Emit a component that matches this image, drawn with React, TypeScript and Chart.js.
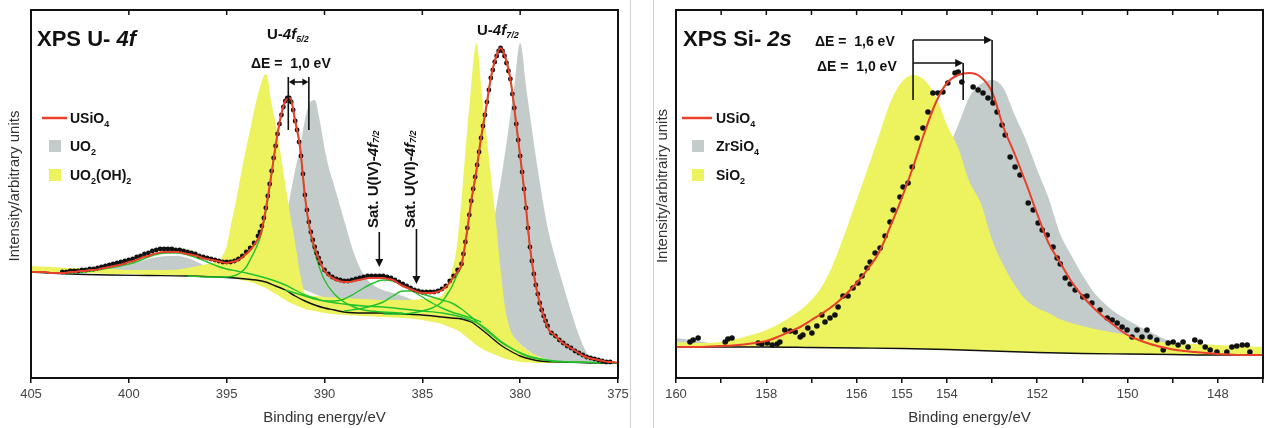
import React, { useEffect, useRef } from "react";
import { Chart, registerables } from "chart.js";

Chart.register(...registerables);
const FONT = "'Liberation Sans', Arial, Helvetica, sans-serif";
Chart.defaults.font.family = FONT;

const INK = "#111111";
const RED = "#e8402a";
const GREEN = "#22c22c";
const GREY_FILL = "#c3cbcb";
const YELLOW_FILL = "#ecf35e";
const CLEAR = "rgba(0,0,0,0)";

type P = [number, number];
type Band = [number, number, number];

// ======================= LEFT PANEL : XPS U-4f =======================
const uLabeledTicks = [405, 400, 395, 390, 385, 380, 375];

// measured points (binding energy eV, intensity a.u.)
const uMeasured: P[] = [
  [403.4,106],[403.2,106],[403,107],[402.8,107],[402.6,107],[402.4,108],[402.2,108],[402,109],[401.8,109],[401.6,110],
  [401.4,111],[401.2,112],[401,113],[400.8,114],[400.6,115],[400.4,116],[400.2,117],[400,118],[399.8,119],[399.6,121],
  [399.4,122],[399.2,124],[399,125],[398.8,127],[398.6,128],[398.4,129],[398.2,129],[398,129],[397.8,129],[397.6,128],
  [397.4,128],[397.2,127],[397,126],[396.8,125],[396.6,124],[396.4,122],[396.2,121],[396,120],[395.8,119],[395.6,118],
  [395.4,117],[395.2,116],[395,116],[394.8,116],[394.6,117],[394.4,119],[394.2,122],[394,126],[393.8,130],[393.6,135],
  [393.4,142],[393.3,146],[393.2,152],[393.1,160],[393,170],[392.9,182],[392.8,194],[392.7,207],[392.6,220],[392.5,232],
  [392.4,244],[392.3,254],[392.2,263],[392.1,271],[392,277],[391.9,280],[391.8,280],[391.7,276],[391.6,268],[391.5,257],
  [391.4,248],[391.3,236],[391.2,222],[391.1,204],[391,183],[390.9,168],[390.8,156],[390.7,146],[390.6,138],[390.5,131],
  [390.4,125],[390.3,120],[390.2,115],[390,108],[389.8,104],[389.6,101],
  [389.4,99],[389.2,98],[389,97],[388.8,97],[388.6,98],[388.4,99],[388.2,100],[388,101],[387.8,102],[387.6,102],
  [387.4,102],[387.2,102],[387,102],[386.8,101],[386.6,100],[386.4,98],[386.2,96],[386,94],[385.8,92],[385.6,90],
  [385.4,88],[385.2,87],[385,86],[384.8,86],[384.6,86],[384.4,86],[384.2,87],[384,89],[383.8,92],[383.6,97],
  [383.4,102],[383.2,108],[383,114],[382.9,124],[382.8,136],[382.7,150],[382.6,163],[382.5,177],[382.4,189],[382.3,201],
  [382.2,213],[382.1,226],[382,240],[381.9,252],[381.8,263],[381.7,276],[381.6,288],[381.5,300],[381.4,308],[381.3,316],
  [381.2,322],[381.1,327],[381,330],[380.9,327],[380.8,322],[380.7,315],[380.6,307],[380.5,299],[380.4,284],[380.3,270],
  [380.2,254],[380.1,238],[380,222],[379.9,206],[379.8,189],[379.7,170],[379.6,150],[379.5,131],[379.4,117],[379.3,104],
  [379.2,93],[379.1,84],[379,75],[378.9,68],[378.8,62],[378.7,57],[378.6,52],[378.4,45],[378.2,42],[378,38],[377.8,35],[377.6,32],
  [377.4,30],[377.2,27],[377,25],[376.8,23],[376.6,21],[376.4,20],[376.2,19],[376,18],[375.8,17],[375.6,16],[375.4,16],
];

// USiO4 envelope fit
const uFit: P[] = [
  [405,106],[404.75,106],[404.5,106],[404.25,106],[404,105],[403.75,105],[403.5,105],[403.25,105],[403,106],[402.75,106],
  [402.5,107],[402.25,107],[402,108],[401.75,108],[401.5,109],[401.25,110],[401,111],[400.75,112],[400.5,113],[400.25,114],
  [400,116],[399.75,117],[399.5,119],[399.25,121],[399,122],[398.75,124],[398.5,125],[398.25,126],[398,126],[397.75,126],
  [397.5,126],[397.25,125],[397,124],[396.75,123],[396.5,122],[396.25,120],[396,119],[395.75,118],[395.5,117],[395.25,116],
  [395,115],[394.75,116],[394.5,117],[394.25,120],[394,124],[393.75,129],[393.5,136],[393.25,145],[393,169],[392.75,199],
  [392.5,232],[392.25,260],[392,277],[391.75,280],[391.5,257],[391.25,231],[391,182],[390.75,149],[390.5,130],[390.25,117],
  [390,107],[389.75,102],[389.5,99],[389.25,97],[389,96],[388.75,96],[388.5,97],[388.25,98],[388,99],[387.75,100],
  [387.5,100],[387.25,100],[387,100],[386.75,99],[386.5,98],[386.25,95],[386,92],[385.75,90],[385.5,88],[385.25,86],
  [385,85],[384.75,85],[384.5,85],[384.25,86],[384,88],[383.75,92],[383.5,98],[383.25,105],[383,113],[382.75,142],
  [382.5,177],[382.25,206],[382,240],[381.75,269],[381.5,300],[381.25,320],[381,330],[380.75,320],[380.5,299],[380.25,262],
  [380,222],[379.75,180],[379.5,131],[379.25,98],[379,75],[378.75,59],[378.5,47],[378.25,43],[378,38],[377.75,34],
  [377.5,31],[377.25,28],[377,25],[376.75,22],[376.5,20],[376.25,19],[376,18],[375.75,17],[375.5,16],[375.25,16],[375,15],
];

// Shirley-type background
const uBackground: P[] = [
  [405,106],[403,104],[401,103],[399,102.5],[397,102],[395,100.5],[394,99],[393.5,98],[393,96],[392.5,92],[392,88],
  [391.5,82],[391,77],[390.5,73],[390,70],[389.5,68],[389,66],[388,65],[387,65],[386,64],[385,63],[384,61],[383.5,60],
  [383,59],[382.5,56],[382,49],[381.5,41],[381,33],[380.5,27],[380,22],[379.5,19],[379,17],[378,16],[377,15.5],[376,15],[375,15],
];

// fitted components (on background)
const uCompSat52: P[] = [
  [405,106],[403,105],[401,110],[400,114],[399.5,117],[399,121],[398.5,124],[398,125],[397.5,125],[397,123],[396.5,120],
  [396,116],[395.5,112],[395,109],[394.5,107],[394,105],[393,100],[392,93],[391.5,88],[391,83],[390.5,80],[390,77],
  [389,74],[388,72],[387,71],[386,69],[385,67],[384,65],[383,61],[382,53],[381,37],[380,25],[379,19],[378,16.5],[376,15.5],[375,15],
];
const uComp52: P[] = [
  [397,102],[396,101],[395,101],[394.5,103],[394.25,106],[394,111],[393.75,120],[393.5,130],[393.25,143],[393,166],
  [392.75,198],[392.5,232],[392.25,260],[392,276],[391.75,279],[391.5,257],[391.25,231],[391,182],[390.75,147],[390.5,126],
  [390.25,110],[390,98],[389.5,84],[389,76],[388.5,71],[388,68],[387,66],[386,65],
];
const uCompSatIV: P[] = [
  [392,88],[391,82],[390.5,79],[390,77],[389.5,77],[389,79],[388.5,84],[388,90],[387.5,95],[387,98],[386.5,97],[386,93],
  [385.5,87],[385,81],[384.5,75],[384,70],[383.5,66],[383,63],[382.5,60],[382,56],
];
const uCompSatVI: P[] = [
  [389,67],[388,70],[387,76],[386.5,82],[386,87],[385.5,87],[385,84],[384.5,81],[384,78],[383.5,75],[383,69],[382.5,61],
  [382,52],[381.5,44],[381,36],[380.5,30],[380,25],[379.5,21],[379,19],[378,16.5],[377,16],[376,15],
];
const uComp72: P[] = [
  [387,64],[386,64],[385,67],[384.5,70],[384,76],[383.75,83],[383.5,91],[383.25,102],[383,113],[382.75,141],[382.5,176],
  [382.25,204],[382,239],[381.75,268],[381.5,299],[381.25,320],[381,330],[380.75,320],[380.5,299],[380.25,262],[380,222],
  [379.75,180],[379.5,131],[379.25,98],[379,75],[378.75,59],[378.5,47],[378,38],[377.5,31],[377,25],[376,18],[375,15],
];

// reference spectra drawn as filled bands: [energy, upper, lower]
const uo2Band: Band[] = [
  [405,111,106],[404,110,106],[403,109,105],[402,109,105],[401,111,105],[400,114,104],[399.5,116,104],[399,119,104],
  [398.5,121,104],[398,122,104],[397.5,122,104],[397,120,104],[396.5,116,103],[396,111,103],[395.5,107,103],[395,105,102],
  [394.5,103,102],[394,102,101],[393.5,101,100],[393,103,99],[392.5,125,97],[392,158,95],[391.5,208,92],[391.25,230,90],
  [391,258,88],[390.75,275,86],[390.5,278,84],[390.25,258,82],[390,230,80],[389.75,208,78],[389.5,192,76],[389,158,74],
  [388.5,125,72],[388,103,70],[387.5,93,69],[387,88,68],[386.5,85,67],[386,82,66],[385.5,78,65],[385,75,64],[384.5,72,63],
  [384,69,62],[383.5,66,62],[383,64,61],[382.5,78,60],[382,106,58],[381.5,142,55],[381,196,51],[380.75,228,48],[380.5,263,44],
  [380.25,300,39],[380.125,324,36],[380,335,34],[379.875,324,32],[379.75,300,30],[379.5,263,26],[379.25,228,23],[379,196,21],
  [378.75,166,19],[378.5,142,18],[378.25,123,17.5],[378,106,17],[377.5,73,16],[377,43,16],[376.5,22,15],[376,16,15],
  [375.5,15,15],[375,15,15],
];
const uo2ohBand: Band[] = [
  [405,112,106],[404,111,105],[403,110,105],[402,110,105],[401,109,104],[400,108,104],[399,108,103],[398,108,103],
  [397,110,102],[396.5,112,102],[396,114,102],[395.75,115,101],[395.5,116,101],[395.25,121,101],[395,132,100],[394.75,156,100],
  [394.5,179,99],[394.25,206,98],[394,230,97],[393.75,253,96],[393.5,276,94],[393.25,294,92],[393.125,301,91],[393,304,90],
  [392.875,297,88.5],[392.75,279,87],[392.5,255,84],[392.25,225,81],[392,193,78],[391.75,163,75],[391.5,135,73],[391.25,105,71],
  [391,85,69],[390.5,82,67],[390,81,65],[389,80,63],[388,79,62],[387,78,61],[386,78,60],[385,79,58],[384.5,80,56],[384,82,54],
  [383.75,92,52],[383.5,106,50],[383.25,130,48],[383,178,45],[382.75,238,41],[382.5,293,37],[382.375,320,35],[382.25,335,33],
  [382.125,322,31.5],[382,293,30],[381.75,248,27],[381.5,203,25],[381.25,158,23],[381,108,21],[380.75,68,19],[380.5,48,18],
  [380.25,39,17],[380,34,16],[379.5,26,15.5],[379,21,15],[378.5,18,15],[378,16,15],[377,15,15],[376,15,15],[375,15,15],
];

// annotation anchors (energy / intensity)
const uSplitEnergies = [391.85, 390.8];
const uSplitLevels = { top: 301, bottom: 248, arrow: 296 };
const uSatArrows = [
  { energy: 387.2, from: 146, to: 111, label: "Sat. U(IV)-" },
  { energy: 385.3, from: 149, to: 94, label: "Sat. U(VI)-" },
];
const uSatLabelStart = 150;

// ======================= RIGHT PANEL : XPS Si-2s =======================
const siLabeledTicks = [160, 158, 156, 155, 154, 152, 150, 148];

const siMeasured: P[] = [
  [159.69,36],[159.62,38],[159.51,40],[158.91,36],[158.85,39],[158.76,40],[158.18,35],[158.1,34],[157.98,35],[157.87,33],
  [157.76,34],[157.7,36],[157.59,48],[157.47,47],[157.36,46],[157.25,41],[157.19,43],[157.08,50],[156.99,45],[156.88,52],
  [156.77,63],[156.7,56],[156.59,60],[156.48,63],[156.41,71],[156.3,82],[156.19,82],[156.08,90],[155.97,95],[155.88,102],
  [155.77,110],[155.7,116],[155.59,125],[155.48,130],[155.37,142],[155.26,156],[155.19,168],[155.04,181],[154.97,191],[154.86,195],
  [154.77,211],[154.66,240],[154.53,250],[154.42,266],[154.31,285],[154.2,285],[154.09,286],[153.98,295],[153.82,305],[153.75,306],
  [153.67,296],[153.42,291],[153.31,288],[153.2,285],[153.09,280],[152.98,275],[152.89,266],[152.78,253],[152.71,243],[152.6,221],
  [152.49,211],[152.38,203],[152.2,175],[152.09,168],[151.98,155],[151.89,148],[151.78,143],[151.65,131],[151.56,120],[151.49,114],
  [151.38,100],[151.27,94],[151.16,88],[150.99,81],[150.9,82],[150.79,75],[150.61,68],[150.45,60],[150.34,58],[150.23,55],
  [150.12,51],[150.01,48],[149.9,41],[149.79,48],[149.68,41],[149.57,48],[149.5,41],[149.35,38],[149.21,28],[149.1,35],
  [148.99,36],[148.88,33],[148.77,36],[148.66,31],[148.51,38],[148.39,36],[148.28,31],[148.17,28],[148.02,26],[147.8,26],
  [147.69,31],[147.58,32],[147.46,33],[147.35,33],[147.29,26],
];
const siFit: P[] = [
  [160,31],[159.75,31],[159.5,31],[159.25,31.5],[159,32],[158.75,32.5],[158.5,33.5],[158.25,35],[158,37],[157.75,41],
  [157.5,46],[157.25,51],[157,58],[156.75,65],[156.5,73],[156.25,83],[156,95],[155.75,109],[155.5,126],[155.25,152],
  [155,180],[154.75,211],[154.5,245],[154.25,275],[154,295],[153.75,303],[153.5,305],[153.25,301],[153,286],[152.75,251],
  [152.5,224],[152.25,195],[152,164],[151.75,135],[151.5,116],[151.25,97],[151,82],[150.75,70],[150.5,60],[150.25,51],
  [150,43],[149.75,38],[149.5,34],[149.25,31],[149,28.5],[148.75,27],[148.5,26],[148.25,25],[148,24],[147.75,23.5],
  [147.5,23],[147.25,23],[147,23],
];
const siBackground: P[] = [
  [160,31],[158,31],[157,30.5],[156,30],[155,29.5],[154,28.5],[153,27],[152,25.5],[151,24.5],[150,24],[149,23.5],[148,23],[147,23],
];
const sio2Ref: P[] = [
  [160,36],[159.5,35],[159,36],[158.5,41],[158,48],[157.5,60],[157,78],[156.75,93],[156.5,116],[156.25,146],[156,178],
  [155.75,210],[155.5,243],[155.25,276],[155,296],[154.75,303],[154.5,298],[154.25,282],[154,253],[153.75,230],[153.5,196],
  [153.25,175],[153,138],[152.75,113],[152.5,93],[152.25,78],[152,70],[151.75,65],[151.5,59],[151,52],[150.5,47],[150,43],
  [149.5,38],[149,35],[148.5,34],[148,33],[147.5,32],[147,31],
];
const zrsio4Ref: P[] = [
  [160,40],[159.5,37],[159,33],[158.5,32],[158,31.5],[157,32],[156,38],[155.5,58],[155,93],[154.75,123],[154.5,158],
  [154.25,193],[154,226],[153.75,253],[153.5,281],[153.25,294],[153,298],[152.75,290],[152.5,263],[152.25,238],[152,208],
  [151.75,180],[151.5,145],[151.25,123],[151,103],[150.75,86],[150.5,74],[150.25,65],[150,58],[149.5,46],[149,36],
  [148.5,32],[148,30],[147.5,29],[147,28],
];
const siPeaks = { sio2: 154.75, usio4: 153.64, zrsio4: 153.0 };
const siBracketLevels = { upper: 338, lower: 315, foot: 278, footRight: 275 };

// ======================= helpers =======================
type Part = [string, string, number];
const b = (s: number) => `bold ${s}px ${FONT}`;
const ib = (s: number) => `italic bold ${s}px ${FONT}`;

function rich(ctx: CanvasRenderingContext2D, x: number, y: number, parts: Part[]) {
  let cx = x;
  for (const [t, f, dy] of parts) {
    ctx.font = f;
    ctx.fillText(t, cx, y + dy);
    cx += ctx.measureText(t).width;
  }
  return cx;
}
function seg(ctx: CanvasRenderingContext2D, x1: number, y1: number, x2: number, y2: number) {
  ctx.beginPath();
  ctx.moveTo(x1, y1);
  ctx.lineTo(x2, y2);
  ctx.stroke();
}
function head(ctx: CanvasRenderingContext2D, tx: number, ty: number, dx: number, dy: number, len = 7, half = 3.5) {
  const bx = tx - dx * len, by = ty - dy * len;
  const nx = -dy, ny = dx;
  ctx.beginPath();
  ctx.moveTo(tx, ty);
  ctx.lineTo(bx + nx * half, by + ny * half);
  ctx.lineTo(bx - nx * half, by - ny * half);
  ctx.closePath();
  ctx.fill();
}
const pts = (a: P[]) => a.map(([x, y]) => ({ x, y }));
const bandTop = (a: Band[]) => a.map(([x, t]) => ({ x, y: t }));
const bandLow = (a: Band[]) => a.map(([x, , l]) => ({ x, y: l }));

function line(label: string, data: P[], color: string, width: number) {
  return {
    label, data: pts(data), borderColor: color, borderWidth: width, pointRadius: 0,
    fill: false, cubicInterpolationMode: "monotone",
  };
}

function xScale(min: number, max: number, step: number, labels: number[]) {
  return {
    type: "linear", min, max, reverse: true,
    ticks: {
      stepSize: step, autoSkip: false, maxRotation: 0, padding: 4, color: "#444", font: { size: 13 },
      callback: (v: number) => (labels.includes(Math.round(v)) ? String(Math.round(v)) : ""),
    },
    grid: { display: true, drawOnChartArea: false, drawTicks: true, tickLength: 5, color: INK, lineWidth: 1.5 },
    border: { display: true, color: INK, width: 2 },
    title: { display: true, text: "Binding energy/eV", color: "#333", font: { size: 15 }, padding: { top: 0, bottom: 1 } },
    afterFit: (s: any) => { s.height = 50; s.paddingLeft = 0; s.paddingRight = 0; },
  };
}
function yScale(width: number) {
  return {
    type: "linear", min: 0, max: 368,
    ticks: { display: false },
    grid: { display: false },
    border: { display: true, color: INK, width: 2 },
    afterFit: (s: any) => { s.width = width; s.paddingTop = 0; s.paddingBottom = 0; },
  };
}

function frameAndTitle(ctx: CanvasRenderingContext2D, chart: any, yTitle: string, dx: number) {
  const a = chart.chartArea;
  const x = chart.scales.x;
  ctx.strokeStyle = INK;
  ctx.lineWidth = 2;
  ctx.strokeRect(a.left, a.top, a.right - a.left, a.bottom - a.top);
  ctx.lineWidth = 1.5;
  for (const t of x.ticks) {
    if (t.value === x.min || t.value === x.max) continue;
    const px = x.getPixelForValue(t.value);
    seg(ctx, px, a.top, px, a.top + 5);
  }
  ctx.save();
  ctx.translate(a.left + dx, a.top + 176);
  ctx.rotate(-Math.PI / 2);
  ctx.font = `15px ${FONT}`;
  ctx.fillStyle = "#333";
  ctx.textAlign = "center";
  ctx.textBaseline = "middle";
  ctx.fillText(yTitle, 0, 0);
  ctx.restore();
}

type LegendItem = { kind: "line" | "box"; color: string; parts: Part[] };
function legend(ctx: CanvasRenderingContext2D, a: any, lineFrom: number, lineTo: number, boxX: number, textX: number, items: LegendItem[]) {
  const rows = [108, 136, 165];
  items.forEach((it, i) => {
    const cy = a.top + rows[i];
    if (it.kind === "line") {
      ctx.strokeStyle = it.color;
      ctx.lineWidth = 2.5;
      seg(ctx, a.left + lineFrom, cy, a.left + lineTo, cy);
    } else {
      ctx.fillStyle = it.color;
      ctx.fillRect(a.left + boxX, cy - 6, 12, 12);
    }
    ctx.fillStyle = INK;
    ctx.textBaseline = "alphabetic";
    rich(ctx, a.left + textX, cy + 5, it.parts);
  });
}

// ======================= chart configs =======================
const uDecor = {
  id: "uDecor",
  afterDraw(chart: any) {
    const ctx: CanvasRenderingContext2D = chart.ctx;
    const a = chart.chartArea;
    const x = chart.scales.x, y = chart.scales.y;
    ctx.save();
    frameAndTitle(ctx, chart, "Intensity/arbitrary units", -16);
    ctx.fillStyle = INK;
    ctx.textBaseline = "alphabetic";
    rich(ctx, a.left + 6, a.top + 36, [["XPS U- ", b(22), 0], ["4f", ib(22), 0]]);
    rich(ctx, a.left + 236, a.top + 29, [["U-", b(15), 0], ["4f", ib(15), 0], ["5/2", ib(9), 3]]);
    rich(ctx, a.left + 220, a.top + 58, [["\u0394E =  1,0 eV", b(14), 0]]);
    rich(ctx, a.left + 446, a.top + 25, [["U-", b(15), 0], ["4f", ib(15), 0], ["7/2", ib(9), 3]]);

    // ΔE bracket between USiO4 and UO2 4f5/2
    ctx.strokeStyle = INK;
    ctx.fillStyle = INK;
    ctx.lineWidth = 1.6;
    const xa = x.getPixelForValue(uSplitEnergies[0]);
    const xb = x.getPixelForValue(uSplitEnergies[1]);
    const yt = y.getPixelForValue(uSplitLevels.top);
    const yb = y.getPixelForValue(uSplitLevels.bottom);
    const ya = y.getPixelForValue(uSplitLevels.arrow);
    seg(ctx, xa, yt, xa, yb);
    seg(ctx, xb, yt, xb, yb);
    seg(ctx, xa + 5, ya, xb - 5, ya);
    head(ctx, xa + 0.5, ya, -1, 0, 6, 3.5);
    head(ctx, xb - 0.5, ya, 1, 0, 6, 3.5);

    // satellite arrows + rotated labels
    for (const s of uSatArrows) {
      const px = x.getPixelForValue(s.energy);
      const y0 = y.getPixelForValue(s.from), y1 = y.getPixelForValue(s.to);
      ctx.lineWidth = 1.6;
      seg(ctx, px, y0, px, y1 - 6);
      head(ctx, px, y1, 0, 1, 8, 4);
      ctx.save();
      ctx.translate(px - 5.5, y.getPixelForValue(uSatLabelStart));
      ctx.rotate(-Math.PI / 2);
      ctx.textBaseline = "middle";
      rich(ctx, 0, 0, [[s.label, b(15), 0], ["4f", ib(15), 0], ["7/2", ib(9), 3]]);
      ctx.restore();
    }

    legend(ctx, a, 11, 36, 18, 39, [
      { kind: "line", color: RED, parts: [["USiO", b(14), 0], ["4", b(9), 4]] },
      { kind: "box", color: GREY_FILL, parts: [["UO", b(14), 0], ["2", b(9), 4]] },
      { kind: "box", color: YELLOW_FILL, parts: [["UO", b(14), 0], ["2", b(9), 4], ["(OH)", b(14), 0], ["2", b(9), 4]] },
    ]);
    ctx.restore();
  },
};

function buildLeft(): any {
  return {
    type: "line",
    data: {
      datasets: [
        line("USiO4 fit", uFit, RED, 2),
        {
          label: "USiO4", data: pts(uMeasured), showLine: false, pointRadius: 2.4, pointBorderWidth: 0,
          pointBackgroundColor: INK, pointBorderColor: INK, borderColor: INK,
        },
        line("U-4f5/2 component", uComp52, GREEN, 1.4),
        line("U-4f5/2 satellite", uCompSat52, GREEN, 1.4),
        line("Sat. U(IV)", uCompSatIV, GREEN, 1.4),
        line("Sat. U(VI)", uCompSatVI, GREEN, 1.4),
        line("U-4f7/2 component", uComp72, GREEN, 1.4),
        line("background", uBackground, INK, 1.4),
        {
          label: "UO2(OH)2", data: bandTop(uo2ohBand), borderColor: CLEAR, borderWidth: 0, pointRadius: 0,
          backgroundColor: YELLOW_FILL, fill: 9, cubicInterpolationMode: "monotone",
        },
        { label: "UO2(OH)2 base", data: bandLow(uo2ohBand), borderColor: CLEAR, borderWidth: 0, pointRadius: 0, fill: false, cubicInterpolationMode: "monotone" },
        {
          label: "UO2", data: bandTop(uo2Band), borderColor: CLEAR, borderWidth: 0, pointRadius: 0,
          backgroundColor: GREY_FILL, fill: 11, cubicInterpolationMode: "monotone",
        },
        { label: "UO2 base", data: bandLow(uo2Band), borderColor: CLEAR, borderWidth: 0, pointRadius: 0, fill: false, cubicInterpolationMode: "monotone" },
      ],
    },
    options: {
      responsive: false, animation: false, devicePixelRatio: 1, events: [],
      layout: { padding: { top: 10, right: 10, left: 0, bottom: 0 } },
      plugins: { legend: { display: false }, tooltip: { enabled: false } },
      scales: { x: xScale(375, 405, 5, uLabeledTicks), y: yScale(31) },
    },
    plugins: [uDecor],
  };
}

const siDecor = {
  id: "siDecor",
  afterDraw(chart: any) {
    const ctx: CanvasRenderingContext2D = chart.ctx;
    const a = chart.chartArea;
    const x = chart.scales.x, y = chart.scales.y;
    ctx.save();
    frameAndTitle(ctx, chart, "Intensity/arbitrairy units", -13);
    ctx.fillStyle = INK;
    ctx.textBaseline = "alphabetic";
    rich(ctx, a.left + 7, a.top + 36, [["XPS Si- ", b(22), 0], ["2s", ib(22), 0]]);
    rich(ctx, a.left + 139, a.top + 36, [["\u0394E =  1,6 eV", b(14), 0]]);
    rich(ctx, a.left + 141, a.top + 61, [["\u0394E =  1,0 eV", b(14), 0]]);

    ctx.strokeStyle = INK;
    ctx.fillStyle = INK;
    ctx.lineWidth = 1.6;
    const xl = x.getPixelForValue(siPeaks.sio2);
    const xm = x.getPixelForValue(siPeaks.usio4);
    const xr = x.getPixelForValue(siPeaks.zrsio4);
    const yU = y.getPixelForValue(siBracketLevels.upper);
    const yL = y.getPixelForValue(siBracketLevels.lower);
    const yF = y.getPixelForValue(siBracketLevels.foot);
    const yFR = y.getPixelForValue(siBracketLevels.footRight);
    seg(ctx, xl, yU, xl, yF);
    seg(ctx, xl, yU, xr - 6, yU);
    head(ctx, xr, yU, 1, 0, 8, 4);
    seg(ctx, xr, yU, xr, yFR);
    seg(ctx, xl, yL, xm - 6, yL);
    head(ctx, xm, yL, 1, 0, 8, 4);
    seg(ctx, xm, yL, xm, yF);

    legend(ctx, a, 6, 36, 16, 40, [
      { kind: "line", color: RED, parts: [["USiO", b(14), 0], ["4", b(9), 4]] },
      { kind: "box", color: GREY_FILL, parts: [["ZrSiO", b(14), 0], ["4", b(9), 4]] },
      { kind: "box", color: YELLOW_FILL, parts: [["SiO", b(14), 0], ["2", b(9), 4]] },
    ]);
    ctx.restore();
  },
};

function buildRight(): any {
  return {
    type: "line",
    data: {
      datasets: [
        line("USiO4 fit", siFit, RED, 2),
        {
          label: "USiO4", data: pts(siMeasured), showLine: false, pointRadius: 2.8, pointBorderWidth: 0,
          pointBackgroundColor: INK, pointBorderColor: INK, borderColor: INK,
        },
        line("background", siBackground, INK, 1.4),
        {
          label: "SiO2", data: pts(sio2Ref), borderColor: CLEAR, borderWidth: 0, pointRadius: 0,
          backgroundColor: YELLOW_FILL, fill: 2, cubicInterpolationMode: "monotone",
        },
        {
          label: "ZrSiO4", data: pts(zrsio4Ref), borderColor: CLEAR, borderWidth: 0, pointRadius: 0,
          backgroundColor: GREY_FILL, fill: 2, cubicInterpolationMode: "monotone",
        },
      ],
    },
    options: {
      responsive: false, animation: false, devicePixelRatio: 1, events: [],
      layout: { padding: { top: 10, right: 9, left: 0, bottom: 0 } },
      plugins: { legend: { display: false }, tooltip: { enabled: false } },
      scales: { x: xScale(147, 160, 1, siLabeledTicks), y: yScale(36) },
    },
    plugins: [siDecor],
  };
}

function ChartCanvas({ left, width, build }: { left: number; width: number; build: () => any }) {
  const ref = useRef<HTMLCanvasElement | null>(null);
  useEffect(() => {
    if (!ref.current) return;
    const chart = new Chart(ref.current, build());
    return () => chart.destroy();
  }, [build]);
  return (
    <canvas ref={ref} width={width} height={428}
      style={{ position: "absolute", left, top: 0, width, height: 428, display: "block" }} />
  );
}

export default function App() {
  return (
    <div style={{ position: "absolute", left: 0, top: 0, width: 1272, height: 428, background: "#ffffff", overflow: "hidden" }}>
      <ChartCanvas left={0} width={628} build={buildLeft} />
      <ChartCanvas left={640} width={632} build={buildRight} />
      <div style={{ position: "absolute", left: 630, top: 0, width: 1, height: 428, background: "#d2d2d2" }} />
      <div style={{ position: "absolute", left: 653, top: 0, width: 1, height: 428, background: "#d2d2d2" }} />
    </div>
  );
}
